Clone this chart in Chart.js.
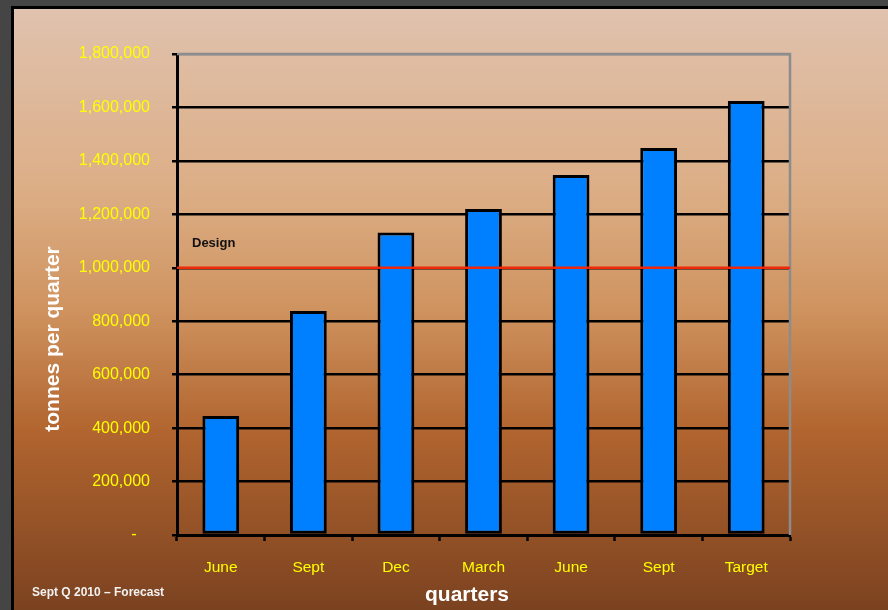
<!DOCTYPE html>
<html>
<head>
<meta charset="utf-8">
<script src="https://cdn.jsdelivr.net/npm/chart.js@4.4.1/dist/chart.umd.min.js"></script>
<style>
  html, body { margin: 0; padding: 0; background: #454545; overflow: hidden; }
  #grafico { display: block; }
</style>
</head>
<body>
<canvas id="grafico" width="888" height="610"></canvas>
<script>
// datos del grafico
const quarters = ['June', 'Sept', 'Dec', 'March', 'June', 'Sept', 'Target'];
const tonnes = [445000, 838000, 1132000, 1220000, 1347000, 1448000, 1624000];
const designLevel = 1000000;
const designLabel = 'Design';
const yMax = 1800000;
const yStep = 200000;

const fuente = 'Liberation Sans, Arial, sans-serif';

// fondo: marco gris y degradado marron
const fondo = {
  id: 'fondo',
  beforeDraw(chart) {
    const c = chart.ctx;
    c.save();
    c.fillStyle = '#454545';
    c.fillRect(0, 0, chart.width, chart.height);
    c.fillStyle = '#000';
    c.fillRect(11, 6, chart.width, chart.height);
    const g = c.createLinearGradient(0, 9, 0, chart.height);
    g.addColorStop(0, '#e0c2ae');
    g.addColorStop(0.3, '#dcae86');
    g.addColorStop(0.5, '#cf935f');
    g.addColorStop(0.7, '#b2652f');
    g.addColorStop(1, '#7b4220');
    c.fillStyle = g;
    c.fillRect(14, 9, chart.width, chart.height);
    c.restore();
  },
  beforeDatasetsDraw(chart) {
    // borde gris arriba y a la derecha
    const a = chart.chartArea;
    const c = chart.ctx;
    c.save();
    c.strokeStyle = '#8c8c8c';
    c.lineWidth = 2.5;
    c.beginPath();
    c.moveTo(a.left, a.top);
    c.lineTo(a.right, a.top);
    c.lineTo(a.right, a.bottom);
    c.stroke();
    c.restore();
  }
};

// linea de diseño y textos
const textos = {
  id: 'textos',
  afterDatasetsDraw(chart) {
    const c = chart.ctx;
    const a = chart.chartArea;
    const y = chart.scales.y.getPixelForValue(designLevel);
    c.save();
    c.strokeStyle = '#f0280a';
    c.lineWidth = 2.5;
    c.beginPath();
    c.moveTo(a.left, y);
    c.lineTo(a.right, y);
    c.stroke();

    c.fillStyle = '#111';
    c.font = 'bold 13px ' + fuente;
    c.textAlign = 'left';
    c.textBaseline = 'alphabetic';
    c.fillText(designLabel, a.left + 15, y - 21);

    c.fillStyle = '#fff';
    c.font = 'bold 21px ' + fuente;
    c.textAlign = 'center';
    c.fillText('quarters', 467, 601);

    c.save();
    c.translate(58.5, 339);
    c.rotate(-Math.PI / 2);
    c.fillText('tonnes per quarter', 0, 0);
    c.restore();

    c.fillStyle = '#f2f2f2';
    c.font = 'bold 12px ' + fuente;
    c.textAlign = 'left';
    c.fillText('Sept Q 2010 \u2013 Forecast', 32, 595.5);
    c.restore();
  }
};

const ctx = document.getElementById('grafico').getContext('2d');

const data = {
  labels: quarters,
  datasets: [{
    label: 'tonnes per quarter',
    data: tonnes,
    backgroundColor: '#0080ff',
    borderColor: '#000',
    borderWidth: 3,
    borderSkipped: false,
    barPercentage: 0.42,
    categoryPercentage: 1
  }]
};

const options = {
  responsive: false,
  animation: false,
  devicePixelRatio: 1,
  layout: {
    padding: { top: 54, right: 98, left: 0, bottom: 0 }
  },
  plugins: {
    legend: { display: false },
    tooltip: { enabled: false }
  },
  scales: {
    x: {
      grid: {
        offset: true,
        drawOnChartArea: false,
        tickLength: 6,
        tickColor: '#000',
        tickWidth: 2.5
      },
      border: { color: '#000', width: 3 },
      ticks: {
        color: '#ffff00',
        font: { family: fuente, size: 15.5 },
        padding: 17
      },
      afterFit: (s) => { s.height = 75; }
    },
    y: {
      min: 0,
      max: yMax,
      ticks: {
        stepSize: yStep,
        color: '#ffff00',
        font: { family: fuente, size: 16 },
        padding: 22,
        callback: (v) => v === 0 ? '-   ' : v.toLocaleString('en-US')
      },
      grid: {
        color: (c) => c.tick && c.tick.value === yMax ? '#8c8c8c' : '#000',
        lineWidth: 2.5,
        tickLength: 5,
        tickColor: '#000',
        tickWidth: 2.5
      },
      border: { color: '#000', width: 3 },
      afterFit: (s) => { s.width = 177; }
    }
  }
};

const miGrafico = new Chart(ctx, {
  type: 'bar',
  data: data,
  options: options,
  plugins: [fondo, textos]
});
</script>
</body>
</html>
